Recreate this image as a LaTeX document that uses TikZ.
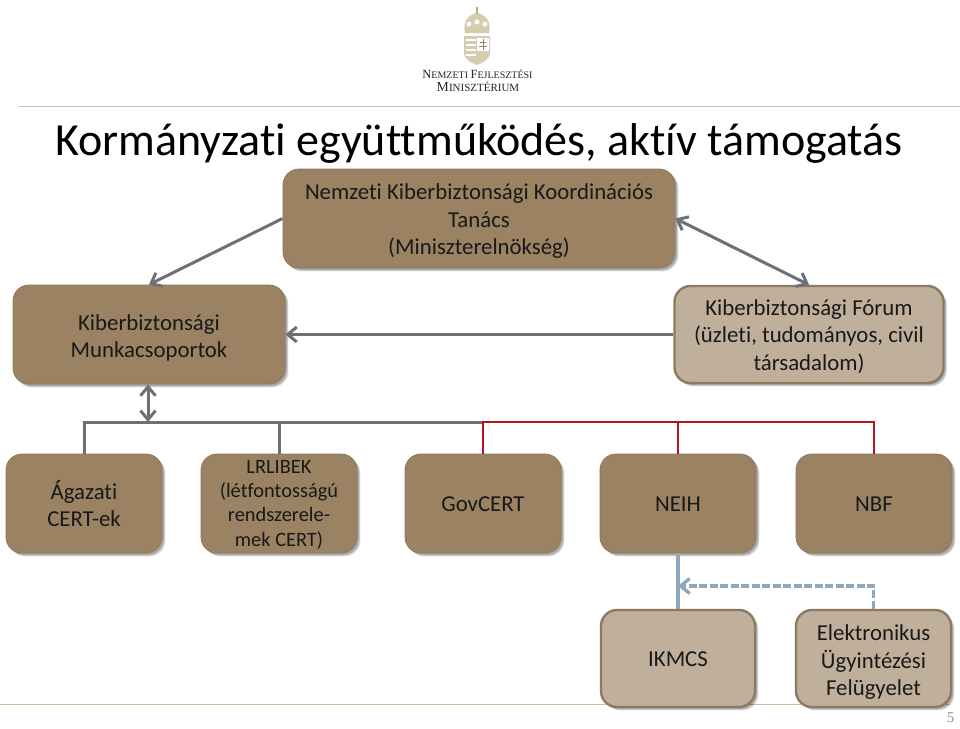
\documentclass[tikz,border=0pt]{standalone}
\usepackage{fontspec}
\setmainfont[Ligatures=CommonOff]{Carlito}
\newfontfamily\logofont{Liberation Serif}
\usetikzlibrary{shadows,arrows.meta,calc}
\definecolor{dbrown}{HTML}{9A8263}
\definecolor{lbrown}{HTML}{C0B09B}
\definecolor{edgeb}{HTML}{8B7B62}
\definecolor{graya}{HTML}{6E7078}
\definecolor{blueg}{HTML}{8FA8BC}
\definecolor{redl}{HTML}{B5121B}
\definecolor{rulec}{HTML}{C9C6A8}
\definecolor{crestc}{HTML}{D5CDB0}
\tikzset{
  x=1pt,y=-1pt,
  softshade/.style={general shadow={shadow xshift=#1,shadow yshift=-#1,shadow scale=1,fill=black,opacity=.13}},
  basebox/.style={rounded corners=16pt,inner sep=0pt,softshade=3.4pt,softshade=2.6pt,softshade=1.8pt},
  dark/.style={basebox,fill=dbrown,draw=dbrown!92!black,line width=.8pt},
  light/.style={basebox,fill=lbrown,draw=edgeb,line width=2.4pt},
  boxtext/.style={align=center,text=black!90,font=\fontsize{22.8}{27.5}\selectfont,inner sep=0pt},
  link/.style={draw=graya,line width=3pt},
  tip/.style={-{Straight Barb[length=9pt,width=15pt,line width=3pt]}},
  tips/.style={{Straight Barb[length=9pt,width=15pt,line width=3pt]}-{Straight Barb[length=9pt,width=15pt,line width=3pt]}},
}
\newcommand{\boxat}[7][]{\node[#2,minimum width=#5pt,minimum height=#6pt] (#3) at (#4) {};
  \node[boxtext,#1] (#3t) at (#3.center) {#7};}
\begin{document}
\begin{tikzpicture}
\useasboundingbox (0,0) rectangle (960,728);
\fill[white] (0,0) rectangle (960,728);
% rules
\draw[rulec,line width=.9pt] (19,106) -- (960,106);
\draw[rulec,line width=.9pt] (0,704) -- (950,704);
% crest
\fill[crestc] (464,36) -- (490,36) -- (490,52) .. controls (490,60) and (482,63) .. (477,65) .. controls (472,63) and (464,60) .. (464,52) -- cycle;
\fill[crestc] (465,33) .. controls (462,20) and (470,14) .. (477,13) .. controls (484,14) and (492,20) .. (489,33) -- cycle;
\fill[white] (469,24) circle (2.4) (477,22) circle (2.6) (485,24) circle (2.4);
\fill[crestc!85!black] (476,7) rectangle (478,14);
\foreach \yy in {39,44,49,54}{\fill[white] (465.5,\yy) rectangle (476,\yy+2.4);}
\fill[white] (477,38) rectangle (489,51);
\draw[crestc!65!black,line width=1pt] (483,39) -- (483,50) (480,42) -- (486,42) (479,46) -- (487,46);
% logo text
\node[font=\logofont\fontsize{12.5}{13}\selectfont,text=black!85,inner sep=0pt] (logoa) at (477.5,74.5)
  {N\fontsize{10}{13}\selectfont EMZETI \fontsize{12.5}{13}\selectfont F\fontsize{10}{13}\selectfont EJLESZTÉSI};
\node[font=\logofont\fontsize{13.8}{14}\selectfont,text=black!85,inner sep=0pt] (logob) at (478,87)
  {M\fontsize{11}{14}\selectfont INISZTÉRIUM};
% title
\node[anchor=base,inner sep=0pt,font=\fontsize{46}{50}\selectfont,text=black] (title) at (479,155) {Kormányzati együttműködés, aktív támogatás};
% boxes
\boxat[yshift=-3pt]{dark}{nkkt}{479,218.5}{392}{99}{Nemzeti Kiberbiztonsági Koordinációs\\Tanács\\(Miniszterelnökség)}
\boxat[yshift=-3.5pt]{dark}{kmcs}{149,334.5}{272}{99}{Kiberbiztonsági\\Munkacsoportok}
\boxat[yshift=-2pt]{light}{kfor}{809,334.5}{269}{97}{Kiberbiztonsági Fórum\\(üzleti, tudományos, civil\\társadalom)}
\boxat{dark}{acert}{84,503.5}{156}{99}{Ágazati\\CERT-ek}
\boxat[font=\fontsize{20.4}{24.3}\selectfont,yshift=-1pt]{dark}{lrl}{279,503.5}{156}{99}{LRLIBEK\\(létfontosságú\\rendszerele-\\mek CERT)}
\boxat[yshift=-1pt]{dark}{gov}{483,503.5}{156}{99}{GovCERT}
\boxat[yshift=-1pt]{dark}{neih}{678,503.5}{156}{99}{NEIH}
\boxat[yshift=-1pt]{dark}{nbf}{874,503.5}{156}{99}{NBF}
\boxat[yshift=-1pt]{light}{ikm}{678,658.5}{154}{97}{IKMCS}
\boxat[yshift=-4pt]{light}{eugy}{873.5,658.5}{155}{97}{Elektronikus\\Ügyintézési\\Felügyelet}
% bus coordinates
\coordinate (bus) at (148,422);
% connectors
\draw[link,tip] (nkkt.west) -- (kmcs.north);
\draw[link,tips] (nkkt.east) -- (kfor.north);
\draw[link,tip] (kfor.west) -- (kmcs.east);
\draw[link] (acert.north) |- (gov.north |- bus);
\draw[link] (lrl.north) -- (lrl.north |- bus);
\draw[redl,line width=2.8pt,line join=miter] (gov.north) |- (nbf.north |- bus) -- (nbf.north);
\draw[redl,line width=2.8pt] (neih.north) -- (neih.north |- bus);
\draw[link,tips] (kmcs.south -| bus) -- (bus);
\draw[draw=blueg,line width=3.4pt] (neih.south) -- (ikm.north);
\coordinate (dashc) at (eugy.north |- 0,586);
\draw[draw=blueg,line width=3.4pt,dash pattern=on 8pt off 2.5pt,-{Straight Barb[length=9pt,width=15pt,line width=3.4pt]}] (eugy.north) -- (dashc) -- (neih.south |- dashc);
% page number
\node[font=\logofont\fontsize{15}{16}\selectfont,text=rulec!75!black,inner sep=0pt] (pg) at (950.5,718) {5};
\end{tikzpicture}
\end{document}
